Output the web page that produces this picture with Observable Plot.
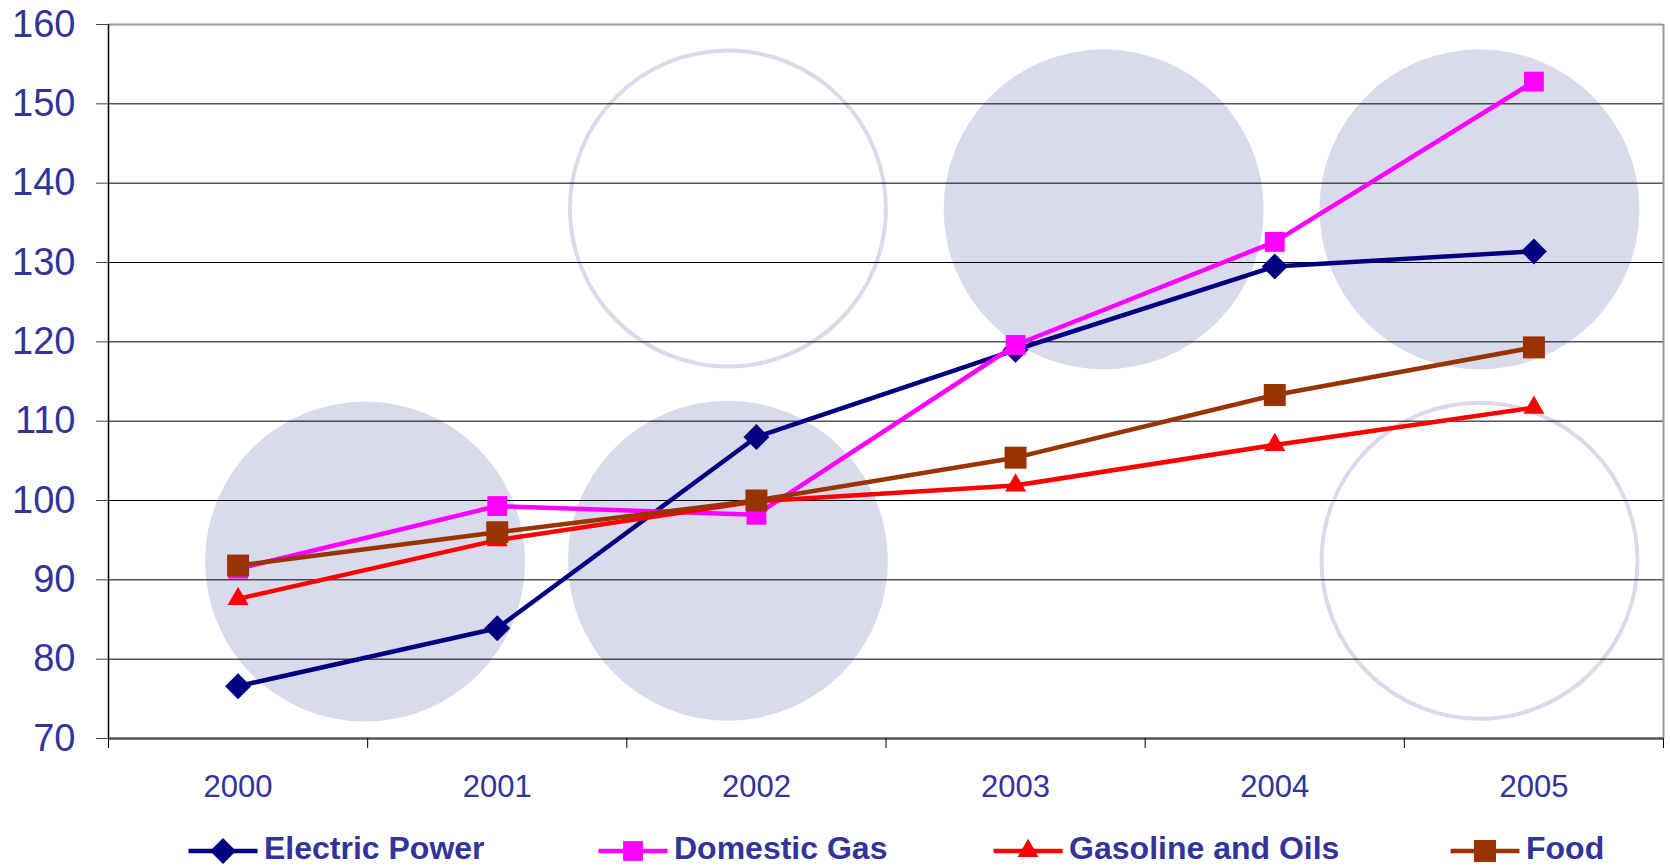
<!DOCTYPE html>
<html><head><meta charset="utf-8">
<script src="https://cdn.jsdelivr.net/npm/d3@7"></script>
<script src="https://cdn.jsdelivr.net/npm/@observablehq/plot@0.6"></script>
<style>
body{margin:0;background:#fff;font-family:"Liberation Sans",Arial,sans-serif;}
#legend svg{display:block;}
#chart svg{display:block;}
</style></head><body><div id="chart"></div><div id="legend"></div>
<script>
const years = [2000, 2001, 2002, 2003, 2004, 2005];
const seriesNames = ["Electric Power", "Domestic Gas", "Gasoline and Oils", "Food"];
const electricPower = [76.6, 83.9, 108.0, 119.0, 129.5, 131.4];
const domesticGas = [91.4, 99.3, 98.2, 119.6, 132.6, 152.8];
const gasolineOils = [87.6, 95.0, 99.9, 101.9, 107.0, 111.7];
const food = [91.8, 96.0, 100.0, 105.4, 113.3, 119.3];
const yTicks = [70, 80, 90, 100, 110, 120, 130, 140, 150, 160];
// decorative background bubbles (centre in data units)
const bubbleX = [2000.49, 2001.89, 2001.89, 2003.34, 2004.79, 2004.79];
const bubbleY = [92.3, 136.8, 92.4, 136.7, 136.7, 92.4];
const bubbleFilled = [true, false, true, true, true, false];

const seriesValues = [electricPower, domesticGas, gasolineOils, food];
const seriesColors = ["#000080", "#FF00FF", "#FF0000", "#993300"];
const seriesSymbols = ["diamond2", "square", "triangle", "square"];
const seriesR = [11.7, 11.2, 7.8, 12.4];
const textColor = "#333399";
const bubbleColor = "#DADAED";

const table = [];
seriesNames.forEach((s, i) => years.forEach((yr, j) => table.push({series: s, year: yr, value: seriesValues[i][j]})));
const bubbles = bubbleX.map((x, i) => ({x, y: bubbleY[i], filled: bubbleFilled[i]}));
const bounds = d3.range(years.length + 1).map(i => years[0] - 0.5 + i);

const seriesMarks = [];
seriesNames.forEach((s, i) => {
  const d = table.filter(r => r.series === s);
  seriesMarks.push(Plot.line(d, {x: "year", y: "value", stroke: seriesColors[i], strokeWidth: 4.5}));
  seriesMarks.push(Plot.dot(d, {x: "year", y: "value", symbol: seriesSymbols[i], r: seriesR[i], fill: seriesColors[i], stroke: "none"}));
});

const chart = Plot.plot({
  width: 1670, height: 812,
  marginLeft: 108, marginRight: 7, marginTop: 24, marginBottom: 74,
  x: {domain: [bounds[0], bounds[bounds.length - 1]]},
  y: {domain: [70, 160]},
  style: {fontFamily: '"Liberation Sans", Arial, sans-serif', background: "white"},
  marks: [
    Plot.dot(bubbles.filter(d => d.filled), {x: "x", y: "y", r: 160, fill: bubbleColor, stroke: "none"}),
    Plot.dot(bubbles.filter(d => !d.filled), {x: "x", y: "y", r: 158, fill: "none", stroke: bubbleColor, strokeWidth: 4}),
    Plot.ruleY(yTicks.filter(v => v > 70 && v < 160), {stroke: "#000", strokeWidth: 1}),
    Plot.ruleY([160], {stroke: "#999", strokeWidth: 2}),
    Plot.ruleX([bounds[bounds.length - 1]], {stroke: "#999", strokeWidth: 2}),
    Plot.ruleY([70], {stroke: "#555", strokeWidth: 2.5}),
    Plot.ruleX([bounds[0]], {stroke: "#000", strokeWidth: 1.5}),
    Plot.axisY(yTicks, {tickSize: 12, tickPadding: 21, fontSize: 38, fill: textColor, stroke: "#444"}),
    Plot.axisX(bounds, {tickSize: 10, fill: "none", stroke: "#000"}),
    Plot.axisX(years, {tickSize: 0, tickPadding: 36, fontSize: 31, fill: textColor, tickFormat: d => String(d)}),
    ...seriesMarks
  ]
});
document.getElementById("chart").appendChild(chart);

// legend
const legendLeft = [186.5, 596.5, 991.6, 1448.5];
const svg = d3.select("#legend").append("svg").attr("width", 1670).attr("height", 54);
seriesNames.forEach((s, i) => {
  const g = svg.append("g").attr("transform", `translate(${legendLeft[i]},39)`);
  g.append("line").attr("x1", 2).attr("x2", 71).attr("y1", 0).attr("y2", 0)
    .attr("stroke", seriesColors[i]).attr("stroke-width", 4.5);
  const symType = {diamond2: d3.symbolDiamond2, square: d3.symbolSquare, triangle: d3.symbolTriangle}[seriesSymbols[i]];
  g.append("path").attr("transform", "translate(36.5,0)")
    .attr("d", d3.symbol(symType, seriesR[i] * seriesR[i] * Math.PI)())
    .attr("fill", seriesColors[i]);
  g.append("text").attr("x", 77.5).attr("y", 8).text(s)
    .attr("fill", textColor).attr("font-size", 32).attr("font-weight", "bold")
    .attr("font-family", '"Liberation Sans", Arial, sans-serif');
});
</script></body></html>
